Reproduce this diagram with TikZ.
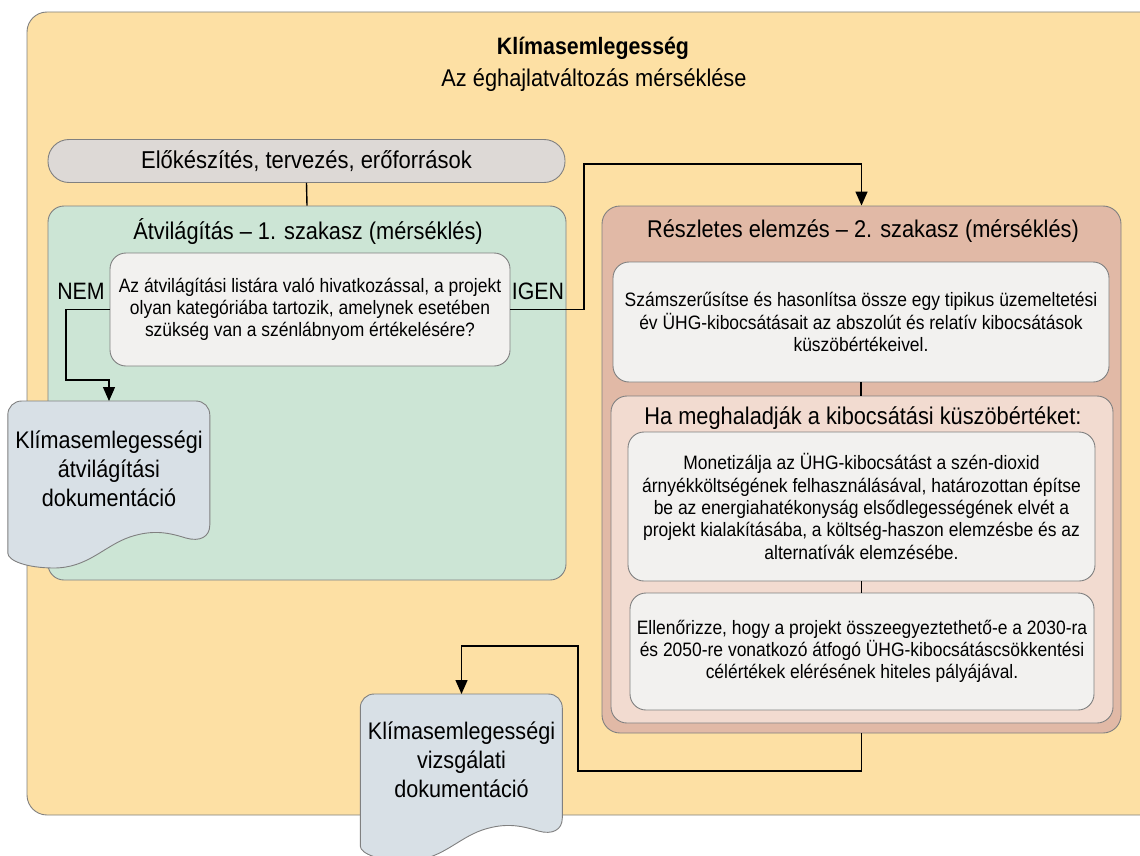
\documentclass[tikz,border=0pt]{standalone}
\usepackage{fontspec}
\setmainfont[FakeStretch=0.9]{Liberation Sans}
\usetikzlibrary{arrows.meta}
\definecolor{outerfill}{HTML}{FDE0A4}
\definecolor{greenfill}{HTML}{CCE5D5}
\definecolor{greyfill}{HTML}{DDD9D6}
\definecolor{brownfill}{HTML}{E1B9A6}
\definecolor{pinkfill}{HTML}{F2DBD0}
\definecolor{whitefill}{HTML}{F2F1EF}
\definecolor{docfill}{HTML}{D8E0E6}
\definecolor{edge}{HTML}{808080}
\tikzset{
  panel/.style={draw=edge, line width=0.9pt, inner sep=0pt},
  card/.style={panel, fill=whitefill, rounded corners=16pt, align=center,
    font=\fontsize{19.4}{22.3}\selectfont},
  heading/.style={inner sep=0pt, font=\fontsize{24.2}{30}\selectfont},
  doctext/.style={inner sep=0pt, align=center, font=\fontsize{24}{29}\selectfont},
  docbox/.style={inner sep=0pt, minimum width=202pt, minimum height=167pt, anchor=north},
  branch/.style={inner sep=0pt, font=\fontsize{23.7}{30}\selectfont},
  link/.style={line width=1.4pt, draw=black},
  flow/.style={link, -{Triangle[length=14pt,width=12pt]}},
}
% wavy document outline, drawn from the top-left corner of its node
\newcommand{\docoutline}[1]{%
  \begin{scope}[shift={(#1.north west)}]
    \draw[draw=edge, line width=0.9pt, fill=docfill]
      (0,152) -- (0,14) .. controls (0,6) and (6,0) .. (14,0)
      -- (188,0) .. controls (196,0) and (202,6) .. (202,14)
      -- (202,124) .. controls (202,136) and (192,141) .. (178,137)
      .. controls (162,132) and (146,128) .. (122,136)
      .. controls (96,145) and (80,167) .. (46,167)
      .. controls (20,167) and (0,160) .. (0,152) -- cycle;
  \end{scope}}
\begin{document}
\begin{tikzpicture}[x=1pt,y=-1pt]
\useasboundingbox (0,0) rectangle (1140,856);
\clip (0,0) rectangle (1140,856);

% background panel and titles
\node[panel, fill=outerfill, rounded corners=20pt, minimum width=1135pt, minimum height=803pt]
  (outer) at (594.5,413.5) {};
\node[inner sep=0pt, font=\fontsize{23.7}{30}\selectfont\bfseries] (title) at (593,48) {Klímasemlegesség};
\node[inner sep=0pt, font=\fontsize{24.2}{30}\selectfont] (subtitle) at (594,80) {Az éghajlatváltozás mérséklése};

% preparation bar
\node[panel, fill=greyfill, rounded corners=21pt, minimum width=517pt, minimum height=43pt,
  font=\fontsize{24.4}{30}\selectfont] (prep) at (306.5,161) {Előkészítés, tervezés, erőforrások};

% stage 1: screening
\node[panel, fill=greenfill, rounded corners=16pt, minimum width=518pt, minimum height=374pt]
  (screen) at (307,393) {};
\node[heading] (screentitle) at (308,232) {Átvilágítás – 1. szakasz (mérséklés)};
\node[card, minimum width=400pt, minimum height=113pt] (q) at (310,309.5)
  {Az átvilágítási listára való hivatkozással, a projekt\\
   olyan kategóriába tartozik, amelynek esetében\\
   szükség van a szénlábnyom értékelésére?};
\node[branch] (nem) at (81,291) {NEM};
\node[branch] (igen) at (538,291) {IGEN};

% stage 2: detailed analysis
\node[panel, fill=brownfill, rounded corners=18pt, minimum width=519pt, minimum height=527pt]
  (detail) at (861.5,469.5) {};
\node[heading] (detailtitle) at (863,231) {Részletes elemzés – 2. szakasz (mérséklés)};
\node[card, minimum width=496pt, minimum height=120pt] (quant) at (861,322)
  {Számszerűsítse és hasonlítsa össze egy tipikus üzemeltetési\\
   év ÜHG-kibocsátásait az abszolút és relatív kibocsátások\\
   küszöbértékeivel.};
\node[panel, fill=pinkfill, rounded corners=16pt, minimum width=502pt, minimum height=327pt]
  (exceed) at (862,559.5) {};
\node[heading] (exceedtitle) at (863,418) {Ha meghaladják a kibocsátási küszöbértéket:};
\node[card, minimum width=467pt, minimum height=149pt] (monet) at (861.5,506.5)
  {Monetizálja az ÜHG-kibocsátást a szén-dioxid\\
   árnyékköltségének felhasználásával, határozottan építse\\
   be az energiahatékonyság elsődlegességének elvét a\\
   projekt kialakításába, a költség-haszon elemzésbe és az\\
   alternatívák elemzésébe.};
\node[card, minimum width=464pt, minimum height=117pt] (check) at (862,651.5)
  {Ellenőrizze, hogy a projekt összeegyeztethető-e a 2030-ra\\
   és 2050-re vonatkozó átfogó ÜHG-kibocsátáscsökkentési\\
   célértékek elérésének hiteles pályájával.};

% output documents
\node[docbox] (doc1) at (109,401) {};
\docoutline{doc1}
\node[doctext] (doc1t) at (109,469) {Klímasemlegességi\\átvilágítási\\dokumentáció};
\node[docbox] (doc2) at (461.5,694) {};
\docoutline{doc2}
\node[doctext] (doc2t) at (461.5,760) {Klímasemlegességi\\vizsgálati\\dokumentáció};

% connectors
\coordinate (nemturn) at (66,380);
\coordinate (igenturn) at (584,164);
\coordinate (outturn) at (578,771);
\coordinate (outtop) at (461.5,646);
\draw[link] (prep.south) -- (screen.north);
\draw[flow] (q.west) -| (nemturn) -| (doc1.north);
\draw[flow] (q.east) -| (igenturn) -| (detail.north);
\draw[link] (quant.south) -- (quant.south |- exceed.north);
\draw[link] (monet.south) -- (monet.south |- check.north);
\draw[flow] (detail.south) |- (outturn) |- (outtop) -- (doc2.north);
\end{tikzpicture}
\end{document}
